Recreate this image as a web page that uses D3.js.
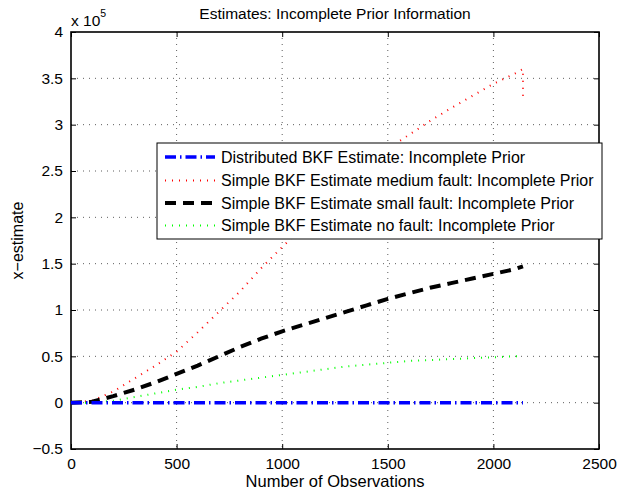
<!DOCTYPE html>
<html><head><meta charset="utf-8">
<script src="https://cdn.jsdelivr.net/npm/d3@7"></script>
<style>
html,body{margin:0;padding:0;background:#fff;}
svg text{font-family:"Liberation Sans",Arial,Helvetica,sans-serif;fill:#000;}
</style></head>
<body><svg id="c" width="617" height="495"></svg>
<script>
// Values in units of 10^5
const observations = [0,100,200,300,400,500,600,700,800,900,1000,1100,1200,1300,1400,1500,1600,1700,1800,1900,2000,2100,2140];
const distributed  = [0,0,0,0,0,0,0,0,0,0,0,0,0,0,0,0,0,0,0,0,0,0,0];
const mediumFault  = [0,0.02,0.12,0.26,0.40,0.55,0.76,0.98,1.20,1.45,1.68,1.90,2.12,2.34,2.55,2.74,2.89,3.04,3.18,3.31,3.44,3.55,3.60];
const mediumFaultTailObs = [2140];
const mediumFaultTail = [3.30];
const smallFault   = [0,0.01,0.07,0.14,0.22,0.31,0.40,0.50,0.60,0.69,0.77,0.84,0.91,0.98,1.05,1.12,1.18,1.24,1.29,1.34,1.39,1.44,1.47];
const noFault      = [0,0,0.02,0.06,0.10,0.14,0.17,0.21,0.24,0.27,0.30,0.33,0.36,0.39,0.41,0.43,0.45,0.46,0.47,0.48,0.49,0.50,0.50];
const xTicks = [0,500,1000,1500,2000,2500];
const yTicks = [-0.5,0,0.5,1,1.5,2,2.5,3,3.5,4];
const legendLabels = [
  "Distributed BKF Estimate: Incomplete Prior",
  "Simple BKF Estimate medium fault: Incomplete Prior",
  "Simple BKF Estimate small fault: Incomplete Prior",
  "Simple BKF Estimate no fault: Incomplete Prior"
];

const svg = d3.select("#c");
const L=71, R=599, T=32, B=449;
const x = d3.scaleLinear().domain([0,2500]).range([L,R]);
const y = d3.scaleLinear().domain([-0.5,4]).range([B,T]);

// grid
const g = svg.append("g");
xTicks.slice(1,-1).forEach(v=>{
  g.append("line").attr("x1",x(v)).attr("x2",x(v)).attr("y1",T).attr("y2",B)
   .attr("stroke","#333").attr("stroke-width",0.8).attr("stroke-dasharray","1,5");
});
yTicks.slice(1,-1).forEach(v=>{
  g.append("line").attr("x1",L).attr("x2",R).attr("y1",y(v)).attr("y2",y(v))
   .attr("stroke","#333").attr("stroke-width",0.8).attr("stroke-dasharray","1,5");
});

// axes via d3
const fmtY = v => v<0 ? "\u2212"+Math.abs(v) : String(v);
svg.append("g").attr("transform",`translate(0,${B})`)
  .call(d3.axisBottom(x).tickValues(xTicks).tickSize(-5).tickPadding(9).tickFormat(d3.format("d")));
svg.append("g").attr("transform",`translate(${L},0)`)
  .call(d3.axisLeft(y).tickValues(yTicks).tickSize(-5).tickPadding(8).tickFormat(fmtY));
svg.append("g").attr("transform",`translate(0,${T})`)
  .call(d3.axisTop(x).tickValues(xTicks).tickSize(-5).tickFormat(""));
svg.append("g").attr("transform",`translate(${R},0)`)
  .call(d3.axisRight(y).tickValues(yTicks).tickSize(-5).tickFormat(""));
svg.selectAll(".domain").remove();
svg.selectAll(".tick line").attr("stroke","#000").attr("stroke-width",1);
svg.selectAll(".tick text").style("font-size","15.5px").style("font-family","Liberation Sans, Arial, sans-serif");
svg.append("rect").attr("x",L).attr("y",T).attr("width",R-L).attr("height",B-T)
  .attr("fill","none").attr("stroke","#000").attr("stroke-width",1.6);

// series
const line = d3.line().x(d=>x(d[0])).y(d=>y(d[1]));
const series = [
  {vals: distributed, color:"#0000ff", w:3.5, dash:"11,4,1.5,4"},
  {vals: mediumFault, color:"#ff0000", w:2, dash:"1,6"},
  {vals: smallFault, color:"#000000", w:4, dash:"11,7"},
  {vals: noFault, color:"#00ff00", w:2, dash:"1,6"}
];
[1,2,3,0].forEach(i=>{
  const s = series[i];
  let pts = observations.map((o,k)=>[o,s.vals[k]]);
  if(i===1) pts = pts.concat(mediumFaultTailObs.map((o,k)=>[o,mediumFaultTail[k]]));
  svg.append("path").datum(pts).attr("d",line).attr("fill","none")
    .attr("stroke",s.color).attr("stroke-width",s.w).attr("stroke-dasharray",s.dash);
});

// legend
const lg = svg.append("g");
lg.append("rect").attr("x",157).attr("y",143).attr("width",445).attr("height",96)
  .attr("fill","#fff").attr("stroke","#000").attr("stroke-width",1);
const rowsY=[157,180.5,203,225.5];
series.forEach((s,i)=>{
  lg.append("line").attr("x1",165).attr("x2",215).attr("y1",rowsY[i]).attr("y2",rowsY[i])
    .attr("stroke",s.color).attr("stroke-width",s.w).attr("stroke-dasharray",s.dash);
  lg.append("text").attr("x",221).attr("y",rowsY[i]).attr("dy","0.36em")
    .style("font-size","16px").text(legendLabels[i]);
});

// labels
svg.append("text").attr("x",(L+R)/2).attr("y",19).attr("text-anchor","middle")
  .style("font-size","15.5px").text("Estimates: Incomplete Prior Information");
svg.append("text").attr("x",(L+R)/2).attr("y",487).attr("text-anchor","middle")
  .style("font-size","16.5px").text("Number of Observations");
svg.append("text").attr("transform",`translate(23,${(T+B)/2}) rotate(-90)`).attr("text-anchor","middle")
  .style("font-size","16px").text("x\u2212estimate");
const ex = svg.append("text").attr("x",71).attr("y",26).style("font-size","15.5px");
ex.append("tspan").text("x 10");
ex.append("tspan").attr("dy",-9).style("font-size","10.5px").text("5");
</script></body></html>
